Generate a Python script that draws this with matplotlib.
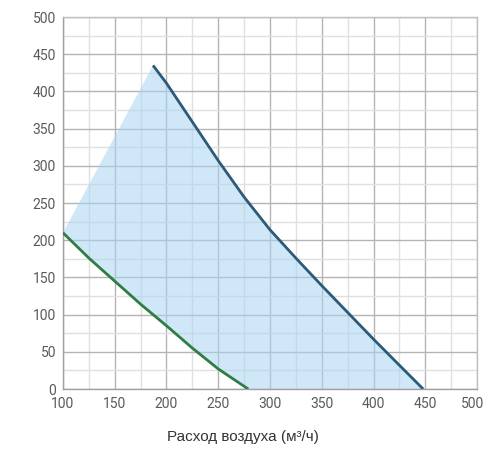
import numpy as np
import matplotlib
matplotlib.use("Agg")
import matplotlib.pyplot as plt
from matplotlib.ticker import MultipleLocator
from matplotlib import font_manager
import matplotlib.transforms as mtransforms

# Data
max_x = [187, 200, 225, 250, 275, 300, 325, 350, 375, 400, 425, 448]
max_y = [435, 411, 359, 307, 258, 214, 176, 139, 103, 67, 32, 0]
min_x = [100, 125, 150, 175, 200, 225, 250, 265, 279]
min_y = [210, 176, 145, 114, 85, 55, 27, 13, 0]
x_ticks = [100, 150, 200, 250, 300, 350, 400, 450, 500]
y_ticks = [0, 50, 100, 150, 200, 250, 300, 350, 400, 450, 500]
x_label = "Расход воздуха (м³/ч)"

names = {f.name for f in font_manager.fontManager.ttflist}
tick_family = ["Liberation Sans Narrow"] if "Liberation Sans Narrow" in names else ["Roboto", "DejaVu Sans"]

fig = plt.figure(figsize=(4.86, 4.55), dpi=100)
ax = fig.add_axes([0.1296, 0.145, 0.8519, 0.8176])

poly_x = [min_x[0]] + max_x + min_x[::-1]
poly_y = [min_y[0]] + max_y + min_y[::-1]
ax.fill(poly_x, poly_y, color="#a9d4f0", alpha=0.55, lw=0, zorder=2)

ax.plot(max_x, max_y, color="#2c5a78", lw=2.0, zorder=3, solid_capstyle="butt",
        solid_joinstyle="round")
ax.plot(min_x, min_y, color="#2f7d45", lw=2.0, zorder=3, solid_capstyle="butt",
        solid_joinstyle="round")

ax.set_xlim(100, 500)
ax.set_ylim(0, 500)
ax.set_xticks(x_ticks)
ax.set_yticks(y_ticks)
ax.xaxis.set_minor_locator(MultipleLocator(25))
ax.yaxis.set_minor_locator(MultipleLocator(25))
ax.grid(which="major", color="#b4b4b4", lw=1.0, zorder=1)
ax.grid(which="minor", color="#e0e0e0", lw=1.0, zorder=1)
ax.set_axisbelow(True)
ax.tick_params(which="both", length=0)
ax.tick_params(axis="x", pad=6)
ax.tick_params(axis="y", pad=5)
for lab in ax.get_xticklabels() + ax.get_yticklabels():
    lab.set_family(tick_family)
    lab.set_fontsize(10)
    lab.set_color("#5a5a5a")
# keep the last x label inside the figure
last = ax.get_xticklabels()[-1]
last.set_transform(last.get_transform() +
                   mtransforms.ScaledTranslation(-4 / 100, 0, fig.dpi_scale_trans))
for s in ax.spines.values():
    s.set_color("#c0c0c0")
    s.set_linewidth(1.0)
ax.spines["left"].set_color("#a0a0a0")
ax.spines["bottom"].set_color("#a0a0a0")

fig.text(0.50, 0.025, x_label, ha="center", va="bottom", fontsize=11,
         color="#333333", family=["Liberation Sans", "DejaVu Sans"])

fig.savefig("out.png", dpi=100)
